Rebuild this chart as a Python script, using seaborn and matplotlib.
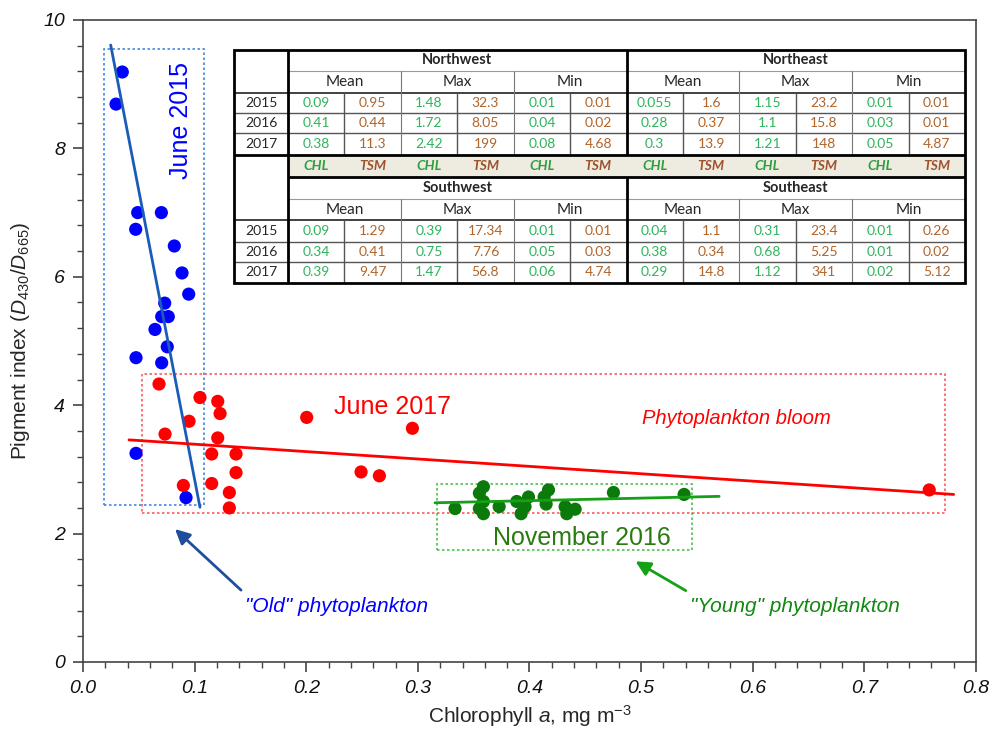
import numpy as np
import pandas as pd
import matplotlib
matplotlib.use("Agg")
import matplotlib.pyplot as plt
import seaborn as sns
from matplotlib.patches import Rectangle

# ---------------- data ----------------
blue_x = [0.0352, 0.0296, 0.049, 0.0702, 0.0472, 0.0818, 0.0887, 0.0947, 0.0732, 0.0705,
          0.0764, 0.0645, 0.0755, 0.0475, 0.0705, 0.0475, 0.0923]
blue_y = [9.19, 8.69, 7.00, 7.00, 6.74, 6.48, 6.06, 5.73, 5.59, 5.38,
          5.38, 5.18, 4.91, 4.74, 4.66, 3.25, 2.56]
red_x = [0.0681, 0.1048, 0.1207, 0.1228, 0.0950, 0.2004, 0.2951, 0.0735, 0.1207, 0.1153,
         0.1371, 0.1371, 0.2491, 0.2655, 0.1153, 0.0899, 0.1311, 0.1311, 0.7581]
red_y = [4.33, 4.12, 4.06, 3.87, 3.75, 3.81, 3.64, 3.55, 3.49, 3.24,
         3.24, 2.95, 2.96, 2.90, 2.78, 2.75, 2.64, 2.40, 2.68]
green_x = [0.3333, 0.3551, 0.3587, 0.3587, 0.3551, 0.3587, 0.3728, 0.3886, 0.3991, 0.3925,
           0.3960, 0.4170, 0.4131, 0.4149, 0.4319, 0.4334, 0.4409, 0.4752, 0.5385]
green_y = [2.39, 2.63, 2.73, 2.50, 2.39, 2.31, 2.42, 2.50, 2.57, 2.31,
           2.42, 2.68, 2.57, 2.46, 2.42, 2.31, 2.38, 2.64, 2.61]

# regression lines (end points)
fit_blue_x = [0.0248, 0.1048]
fit_blue_y = [9.61, 2.41]
fit_red_x = [0.0412, 0.78]
fit_red_y = [3.46, 2.61]
fit_green_x = [0.3154, 0.5699]
fit_green_y = [2.48, 2.58]

# dotted group boxes: x0, x1, y0, y1
box_blue = [0.0191, 0.1084, 2.45, 9.55]
box_red = [0.0532, 0.772, 2.32, 4.49]
box_green = [0.3169, 0.5454, 1.74, 2.77]

# table
regions = ["Northwest", "Northeast", "Southwest", "Southeast"]
years = ["2015", "2016", "2017"]
stats = ["Mean", "Max", "Min"]
params = ["CHL", "TSM"]
nw = [["0.09", "0.95", "1.48", "32.3", "0.01", "0.01"],
      ["0.41", "0.44", "1.72", "8.05", "0.04", "0.02"],
      ["0.38", "11.3", "2.42", "199", "0.08", "4.68"]]
ne = [["0.055", "1.6", "1.15", "23.2", "0.01", "0.01"],
      ["0.28", "0.37", "1.1", "15.8", "0.03", "0.01"],
      ["0.3", "13.9", "1.21", "148", "0.05", "4.87"]]
sw = [["0.09", "1.29", "0.39", "17.34", "0.01", "0.01"],
      ["0.34", "0.41", "0.75", "7.76", "0.05", "0.03"],
      ["0.39", "9.47", "1.47", "56.8", "0.06", "4.74"]]
se = [["0.04", "1.1", "0.31", "23.4", "0.01", "0.26"],
      ["0.38", "0.34", "0.68", "5.25", "0.01", "0.02"],
      ["0.29", "14.8", "1.12", "341", "0.02", "5.12"]]

# ---------------- style ----------------
sns.set_theme(style="ticks")
plt.rcParams["font.family"] = ["Liberation Sans", "DejaVu Sans"]
plt.rcParams["mathtext.fontset"] = "custom"
plt.rcParams["mathtext.rm"] = "Liberation Sans"
plt.rcParams["mathtext.it"] = "Liberation Sans:italic"

C_BLUE = "#0000ff"
C_RED = "#ff0000"
C_GREEN = "#0b7a0b"

fig = plt.figure(figsize=(9.95, 7.38), dpi=100)
ax = fig.add_axes([83 / 995, 76 / 738, 893 / 995, 642 / 738])

df = pd.DataFrame({
    "x": blue_x + red_x + green_x,
    "y": blue_y + red_y + green_y,
    "g": ["b"] * len(blue_x) + ["r"] * len(red_x) + ["g"] * len(green_x),
})
sns.scatterplot(data=df, x="x", y="y", hue="g",
                palette={"b": C_BLUE, "r": C_RED, "g": C_GREEN},
                s=90, edgecolor="none", legend=False, ax=ax, zorder=3)

sns.lineplot(x=fit_blue_x, y=fit_blue_y, color="#1a5cb8", lw=2, ax=ax, zorder=4)
sns.lineplot(x=fit_red_x, y=fit_red_y, color=C_RED, lw=2, ax=ax, zorder=4)
sns.lineplot(x=fit_green_x, y=fit_green_y, color="#17a017", lw=2, ax=ax, zorder=4)

for b, c in [(box_blue, "#3f86dd"), (box_red, "#ff5a5a"), (box_green, "#4cc04c")]:
    ax.add_patch(Rectangle((b[0], b[2]), b[1] - b[0], b[3] - b[2], fill=False,
                           ls=(0, (1.5, 1.5)), lw=1.2, edgecolor=c, zorder=2))

ax.set_xlim(0, 0.8)
ax.set_ylim(0, 10)
ax.set_xticks(np.arange(0, 0.81, 0.1))
ax.set_xticklabels([f"{v:.1f}" for v in np.arange(0, 0.81, 0.1)])
ax.set_yticks(np.arange(0, 11, 2))
ax.set_yticklabels([str(v) for v in range(0, 11, 2)])
ax.set_xticks(np.arange(0, 0.801, 0.02), minor=True)
ax.set_yticks(np.arange(0, 10.01, 0.4), minor=True)
for lab in ax.get_xticklabels() + ax.get_yticklabels():
    lab.set_fontstyle("italic")
ax.tick_params(axis="both", which="major", length=7, width=1.2, color="#444444",
               labelsize=14, labelcolor="#111111", pad=6, direction="out")
ax.tick_params(axis="both", which="minor", length=4, width=1.0, color="#444444", direction="out")
for sp in ax.spines.values():
    sp.set_visible(True)
    sp.set_color("#444444")
    sp.set_linewidth(1.2)

ax.set_xlabel(r"Chlorophyll $\mathit{a}$, mg m$^{\mathregular{-3}}$", fontsize=15, labelpad=4)
ax.set_ylabel(r"Pigment index $\mathit{(D_{430}/D_{665})}$", fontsize=15, labelpad=8)

# annotations
ax.text(0.088, 8.43, "June 2015", color=C_BLUE, fontsize=18, rotation=90,
        ha="center", va="center")
ax.text(0.225, 3.97, "June 2017", color=C_RED, fontsize=18, ha="left", va="center")
ax.text(0.585, 3.80, "Phytoplankton bloom", color=C_RED, fontsize=14.5,
        fontstyle="italic", ha="center", va="center")
ax.text(0.447, 1.93, "November 2016", color="#2a7a10", fontsize=18, ha="center", va="center")
ax.text(0.145, 0.87, "\"Old\" phytoplankton", color=C_BLUE, fontsize=15,
        fontstyle="italic", ha="left", va="center")
ax.text(0.544, 0.87, "\"Young\" phytoplankton", color="#118811", fontsize=15,
        fontstyle="italic", ha="left", va="center")
ax.annotate("", xy=(0.0806, 2.10), xytext=(0.1434, 1.09),
            arrowprops=dict(arrowstyle="-|>", color="#1f4e9c", lw=2, mutation_scale=22))
ax.annotate("", xy=(0.4928, 1.59), xytext=(0.5421, 1.09),
            arrowprops=dict(arrowstyle="-|>", color="#16a016", lw=2, mutation_scale=22))

# ---------------- table (pixel coordinates) ----------------
tax = fig.add_axes([0, 0, 1, 1], zorder=10)
tax.set_xlim(0, 995)
tax.set_ylim(738, 0)
tax.axis("off")
tax.patch.set_alpha(0)

X0, XY, X1 = 234, 288, 965
cw = (X1 - XY) / 12
col = [XY + i * cw for i in range(13)]
top_rows = [50, 71, 93, 113, 133, 155]
mid_rows = [155, 177]
bot_rows = [177, 199, 220, 242, 262, 283]
TF = ["Lato", "DejaVu Sans"]
FS = 10
C_CHL = "#2fb35c"
C_TSM = "#b0642a"

tax.add_patch(Rectangle((X0, top_rows[0]), X1 - X0, bot_rows[-1] - top_rows[0],
                        facecolor="white", edgecolor="none", zorder=1))
tax.add_patch(Rectangle((XY, mid_rows[0]), X1 - XY, mid_rows[1] - mid_rows[0],
                        facecolor="#eeece1", edgecolor="none", zorder=1))


def hline(y, x0, x1, lw=1.0, c="#555555"):
    tax.plot([x0, x1], [y, y], color=c, lw=lw, zorder=3, solid_capstyle="butt")


def vline(x, y0, y1, lw=1.0, c="#555555"):
    tax.plot([x, x], [y0, y1], color=c, lw=lw, zorder=3, solid_capstyle="butt")


def block(rows, names, datas):
    r = rows
    hline(r[1], XY, X1, lw=0.8, c="#9a9a9a")
    hline(r[2], X0, X1, lw=1.3, c="#333333")
    hline(r[3], X0, X1, lw=1.0, c="#555555")
    hline(r[4], X0, X1, lw=1.0, c="#555555")
    for k in range(2):
        base = 6 * k
        for j in (2, 4):
            vline(col[base + j], r[1], r[5], lw=0.8, c="#777777")
        for j in (1, 3, 5):
            vline(col[base + j], r[2], r[5], lw=1.0, c="#555555")
    vline(col[6], r[0], r[5], lw=2.0, c="black")
    for k, name in enumerate(names):
        base = 6 * k
        tax.text((col[base] + col[base + 6]) / 2, (r[0] + r[1]) / 2, name, family=TF,
                 fontsize=FS + 0.5, fontweight="bold", ha="center", va="center", zorder=4)
        for j, st in enumerate(stats):
            tax.text((col[base + 2 * j] + col[base + 2 * j + 2]) / 2, (r[1] + r[2]) / 2, st,
                     family=TF, fontsize=FS + 1, ha="center", va="center", zorder=4)
        for i in range(3):
            for j in range(6):
                tax.text((col[base + j] + col[base + j + 1]) / 2, (r[2 + i] + r[3 + i]) / 2,
                         datas[k][i][j], family=TF, fontsize=FS,
                         color=C_CHL if j % 2 == 0 else C_TSM,
                         ha="center", va="center", zorder=4)
    for i, yr in enumerate(years):
        tax.text((X0 + XY) / 2, (r[2 + i] + r[3 + i]) / 2, yr, family=TF, fontsize=FS,
                 ha="center", va="center", zorder=4)


block(top_rows, regions[:2], [nw, ne])
block(bot_rows, regions[2:], [sw, se])

for j in range(12):
    p = params[j % 2]
    tax.text((col[j] + col[j + 1]) / 2, (mid_rows[0] + mid_rows[1]) / 2, p, family=TF,
             fontsize=FS, fontweight="bold", fontstyle="italic",
             color="#2e9e3e" if p == "CHL" else "#a0522d",
             ha="center", va="center", zorder=4)

hline(mid_rows[0], X0, X1, lw=2.0, c="black")
hline(mid_rows[1], XY, X1, lw=2.0, c="black")
vline(XY, top_rows[0], bot_rows[-1], lw=2.0, c="black")
tax.add_patch(Rectangle((X0, top_rows[0]), X1 - X0, bot_rows[-1] - top_rows[0],
                        fill=False, edgecolor="black", lw=2.0, zorder=5))

fig.savefig("out.png", dpi=100)
